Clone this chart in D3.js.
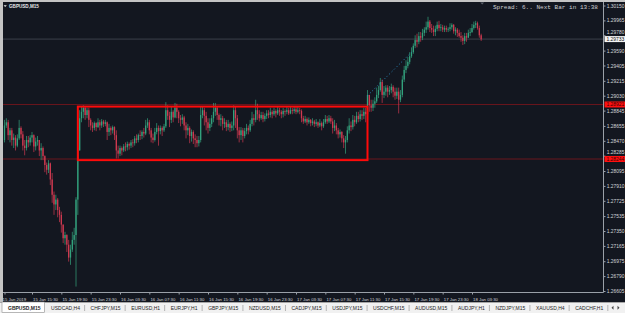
<!DOCTYPE html>
<html>
<head>
<meta charset="utf-8">
<script src="https://cdn.jsdelivr.net/npm/d3@7"></script>
<style>
  html, body { margin: 0; padding: 0; background: #f0f0f0; overflow: hidden; }
  svg { display: block; }
</style>
</head>
<body>
<div id="chart"></div>
<script>
// GBPUSD M15, 15 Jan 2019 11:45 -> 18 Jan 2019 04:45 (261 bars).
// Each bar opens at the previous close; the first bar's open is given.
var symbolTitle = "GBPUSD,M15";
var infoText = "Spread: 6.. Next Bar in 13:38";
var firstBarTime = "2019-01-15T11:45Z";
var barMinutes = 15;
var firstOpen = 1.2848;

var closes = [
  1.2866, 1.2870, 1.2854, 1.2860, 1.2848, 1.2851, 1.2841, 1.2850, 1.2863, 1.2855,
  1.2841, 1.2838, 1.2848, 1.2845, 1.2851, 1.2854, 1.2840, 1.2846, 1.2848, 1.2835,
  1.2838, 1.2828, 1.2817, 1.2811, 1.2819, 1.2799, 1.2780, 1.2768, 1.2774, 1.2761,
  1.2755, 1.2743, 1.2726, 1.2730, 1.2718, 1.2702, 1.2712, 1.2724, 1.2730, 1.2774,
  1.2835,
  1.2875, 1.2883, 1.2888, 1.2879, 1.2885, 1.2873, 1.2866, 1.2863, 1.2869, 1.2864,
  1.2870, 1.2866, 1.2871, 1.2868, 1.2870, 1.2858, 1.2863, 1.2860, 1.2864, 1.2854,
  1.2835, 1.2831, 1.2838, 1.2835, 1.2840, 1.2839, 1.2843, 1.2841, 1.2845, 1.2844,
  1.2850, 1.2848, 1.2854, 1.2853, 1.2858, 1.2856, 1.2866, 1.2870, 1.2860, 1.2851,
  1.2848, 1.2858, 1.2863, 1.2859, 1.2863, 1.2860, 1.2865, 1.2885, 1.2878, 1.2873,
  1.2883, 1.2876, 1.2888, 1.2883, 1.2875, 1.2873, 1.2876, 1.2866, 1.2860, 1.2863,
  1.2853, 1.2858, 1.2850, 1.2848, 1.2844, 1.2848, 1.2879, 1.2885, 1.2878, 1.2870,
  1.2863, 1.2868, 1.2875, 1.2883, 1.2888, 1.2879, 1.2873, 1.2875, 1.2868, 1.2870,
  1.2864, 1.2868, 1.2863, 1.2866, 1.2885, 1.2875, 1.2860, 1.2854, 1.2860, 1.2853,
  1.2859, 1.2863, 1.2860, 1.2868, 1.2875, 1.2873, 1.2885, 1.2880, 1.2875, 1.2879,
  1.2874, 1.2878, 1.2881, 1.2879, 1.2883, 1.2880, 1.2884, 1.2881, 1.2885, 1.2883,
  1.2880, 1.2884, 1.2883, 1.2885, 1.2881, 1.2885, 1.2884, 1.2886, 1.2883, 1.2885,
  1.2884, 1.2875, 1.2871, 1.2874, 1.2870, 1.2873, 1.2869, 1.2871, 1.2868, 1.2870,
  1.2866, 1.2869, 1.2865, 1.2870, 1.2874, 1.2871, 1.2875, 1.2871, 1.2863, 1.2866,
  1.2860, 1.2855, 1.2858, 1.2850, 1.2845, 1.2848, 1.2860, 1.2866, 1.2864, 1.2873,
  1.2870, 1.2878, 1.2874, 1.2880, 1.2878, 1.2883, 1.2880, 1.2904, 1.2891, 1.2888,
  1.2893, 1.2896, 1.2904, 1.2910, 1.2920, 1.2904, 1.2908, 1.2913, 1.2908, 1.2910,
  1.2914, 1.2908, 1.2903, 1.2908, 1.2898, 1.2904, 1.2923, 1.2935, 1.2940, 1.2945,
  1.2952, 1.2957, 1.2965, 1.2972, 1.2970, 1.2977, 1.2975, 1.2981, 1.2985, 1.2988,
  1.2995, 1.2987, 1.2985, 1.2982, 1.2986, 1.2991, 1.2987, 1.2988, 1.2985, 1.2987,
  1.2985, 1.2986, 1.2988, 1.2991, 1.2983, 1.2985, 1.2981, 1.2977, 1.2975, 1.2971,
  1.2977, 1.2975, 1.2981, 1.2982, 1.2987, 1.2991, 1.2993, 1.2987, 1.2978, 1.2973
];

var highs = [
  1.2873, 1.2875, 1.2873, 1.2863, 1.2863, 1.2856, 1.2854, 1.2855, 1.2873, 1.2865,
  1.2859, 1.2848, 1.2853, 1.2853, 1.2854, 1.2858, 1.2855, 1.2851, 1.2853, 1.2848,
  1.2844, 1.2840, 1.2829, 1.2820, 1.2823, 1.2820, 1.2807, 1.2784, 1.2780, 1.2776,
  1.2765, 1.2759, 1.2743, 1.2734, 1.2731, 1.2724, 1.2718, 1.2734, 1.2739, 1.2777,
  1.2838,
  1.2885, 1.2890, 1.2891, 1.2890, 1.2888, 1.2888, 1.2875, 1.2870, 1.2871, 1.2870,
  1.2875, 1.2873, 1.2874, 1.2873, 1.2873, 1.2871, 1.2868, 1.2865, 1.2866, 1.2865,
  1.2860, 1.2841, 1.2841, 1.2840, 1.2843, 1.2845, 1.2846, 1.2845, 1.2848, 1.2849,
  1.2853, 1.2855, 1.2856, 1.2860, 1.2860, 1.2863, 1.2873, 1.2875, 1.2873, 1.2863,
  1.2856, 1.2863, 1.2869, 1.2866, 1.2866, 1.2865, 1.2868, 1.2895, 1.2891, 1.2883,
  1.2889, 1.2885, 1.2894, 1.2893, 1.2885, 1.2879, 1.2880, 1.2878, 1.2870, 1.2868,
  1.2865, 1.2861, 1.2860, 1.2855, 1.2853, 1.2853, 1.2889, 1.2890, 1.2888, 1.2883,
  1.2875, 1.2875, 1.2879, 1.2894, 1.2894, 1.2890, 1.2881, 1.2880, 1.2878, 1.2875,
  1.2873, 1.2873, 1.2870, 1.2871, 1.2891, 1.2890, 1.2879, 1.2864, 1.2864, 1.2863,
  1.2863, 1.2868, 1.2866, 1.2873, 1.2883, 1.2880, 1.2898, 1.2893, 1.2885, 1.2883,
  1.2883, 1.2881, 1.2885, 1.2885, 1.2888, 1.2885, 1.2888, 1.2886, 1.2890, 1.2888,
  1.2885, 1.2888, 1.2886, 1.2889, 1.2888, 1.2889, 1.2888, 1.2889, 1.2889, 1.2889,
  1.2888, 1.2886, 1.2878, 1.2878, 1.2876, 1.2876, 1.2874, 1.2875, 1.2873, 1.2874,
  1.2871, 1.2874, 1.2871, 1.2874, 1.2879, 1.2878, 1.2879, 1.2878, 1.2875, 1.2873,
  1.2869, 1.2863, 1.2861, 1.2859, 1.2854, 1.2853, 1.2865, 1.2875, 1.2871, 1.2879,
  1.2878, 1.2883, 1.2883, 1.2885, 1.2885, 1.2888, 1.2888, 1.2910, 1.2904, 1.2898,
  1.2898, 1.2901, 1.2913, 1.2915, 1.2925, 1.2923, 1.2915, 1.2916, 1.2916, 1.2915,
  1.2918, 1.2916, 1.2913, 1.2913, 1.2913, 1.2910, 1.2928, 1.2940, 1.2947, 1.2951,
  1.2957, 1.2963, 1.2968, 1.2978, 1.2980, 1.2982, 1.2982, 1.2986, 1.2988, 1.2995,
  1.3001, 1.2997, 1.2992, 1.2990, 1.2990, 1.2995, 1.2996, 1.2992, 1.2991, 1.2990,
  1.2990, 1.2988, 1.2993, 1.2993, 1.2992, 1.2988, 1.2987, 1.2985, 1.2982, 1.2978,
  1.2981, 1.2981, 1.2985, 1.2987, 1.2992, 1.2995, 1.2996, 1.2995, 1.2990, 1.2980
];

var lows = [
  1.2845, 1.2863, 1.2848, 1.2845, 1.2841, 1.2838, 1.2835, 1.2839, 1.2848, 1.2850,
  1.2835, 1.2829, 1.2835, 1.2839, 1.2841, 1.2845, 1.2833, 1.2835, 1.2841, 1.2828,
  1.2823, 1.2823, 1.2808, 1.2805, 1.2807, 1.2792, 1.2770, 1.2755, 1.2761, 1.2752,
  1.2746, 1.2733, 1.2720, 1.2718, 1.2709, 1.2697, 1.2693, 1.2709, 1.2718, 1.2666,
  1.2755,
  1.2835, 1.2870, 1.2875, 1.2873, 1.2875, 1.2864, 1.2860, 1.2858, 1.2860, 1.2859,
  1.2863, 1.2860, 1.2863, 1.2864, 1.2865, 1.2848, 1.2853, 1.2854, 1.2856, 1.2848,
  1.2825, 1.2825, 1.2828, 1.2829, 1.2833, 1.2834, 1.2835, 1.2836, 1.2838, 1.2839,
  1.2841, 1.2844, 1.2845, 1.2848, 1.2849, 1.2851, 1.2854, 1.2863, 1.2855, 1.2845,
  1.2844, 1.2846, 1.2855, 1.2841, 1.2855, 1.2853, 1.2858, 1.2863, 1.2873, 1.2864,
  1.2869, 1.2870, 1.2875, 1.2875, 1.2869, 1.2865, 1.2868, 1.2860, 1.2850, 1.2854,
  1.2844, 1.2846, 1.2843, 1.2839, 1.2839, 1.2840, 1.2845, 1.2875, 1.2866, 1.2860,
  1.2856, 1.2859, 1.2864, 1.2870, 1.2878, 1.2873, 1.2866, 1.2865, 1.2860, 1.2863,
  1.2859, 1.2860, 1.2858, 1.2859, 1.2860, 1.2863, 1.2850, 1.2845, 1.2848, 1.2845,
  1.2850, 1.2855, 1.2855, 1.2858, 1.2865, 1.2866, 1.2870, 1.2873, 1.2871, 1.2873,
  1.2870, 1.2871, 1.2874, 1.2875, 1.2876, 1.2875, 1.2878, 1.2876, 1.2879, 1.2878,
  1.2875, 1.2876, 1.2878, 1.2880, 1.2879, 1.2880, 1.2880, 1.2881, 1.2880, 1.2881,
  1.2880, 1.2870, 1.2868, 1.2869, 1.2866, 1.2868, 1.2865, 1.2866, 1.2864, 1.2865,
  1.2863, 1.2864, 1.2860, 1.2863, 1.2868, 1.2868, 1.2869, 1.2868, 1.2856, 1.2859,
  1.2855, 1.2850, 1.2851, 1.2845, 1.2838, 1.2831, 1.2845, 1.2856, 1.2859, 1.2861,
  1.2865, 1.2868, 1.2870, 1.2871, 1.2873, 1.2874, 1.2870, 1.2875, 1.2883, 1.2883,
  1.2884, 1.2888, 1.2894, 1.2900, 1.2908, 1.2894, 1.2900, 1.2903, 1.2901, 1.2904,
  1.2906, 1.2901, 1.2898, 1.2899, 1.2881, 1.2895, 1.2901, 1.2920, 1.2931, 1.2937,
  1.2942, 1.2950, 1.2955, 1.2962, 1.2963, 1.2967, 1.2970, 1.2972, 1.2977, 1.2981,
  1.2985, 1.2982, 1.2981, 1.2977, 1.2977, 1.2983, 1.2983, 1.2983, 1.2982, 1.2982,
  1.2982, 1.2982, 1.2983, 1.2985, 1.2980, 1.2978, 1.2976, 1.2975, 1.2970, 1.2966,
  1.2967, 1.2970, 1.2975, 1.2977, 1.2981, 1.2985, 1.2987, 1.2985, 1.2975, 1.2971
];

// price scale labels, top to bottom
var priceTicks = [1.30150, 1.29965, 1.29780, 1.29590, 1.29405, 1.29215, 1.29030,
  1.28845, 1.28655, 1.28470, 1.28285, 1.28095, 1.27910, 1.27725, 1.27535, 1.27350,
  1.27165, 1.26975, 1.26790, 1.26605];

var timeTickLabels = ["15 Jan 2019", "15 Jan 15:30", "15 Jan 19:30", "15 Jan 23:30",
  "16 Jan 03:30", "16 Jan 07:30", "16 Jan 11:30", "16 Jan 15:30", "16 Jan 19:30",
  "16 Jan 23:30", "17 Jan 03:30", "17 Jan 07:30", "17 Jan 11:30", "17 Jan 15:30",
  "17 Jan 19:30", "17 Jan 23:30", "18 Jan 03:30"];
var timeTickTimes = ["2019-01-15T11:45Z", "2019-01-15T15:30Z", "2019-01-15T19:30Z",
  "2019-01-15T23:30Z", "2019-01-16T03:30Z", "2019-01-16T07:30Z", "2019-01-16T11:30Z",
  "2019-01-16T15:30Z", "2019-01-16T19:30Z", "2019-01-16T23:30Z", "2019-01-17T03:30Z",
  "2019-01-17T07:30Z", "2019-01-17T11:30Z", "2019-01-17T15:30Z", "2019-01-17T19:30Z",
  "2019-01-17T23:30Z", "2019-01-18T03:30Z"];

// chart objects
var levelPrices = [1.28921, 1.28244];
var bidPrice = 1.29733;
var boxTimes = ["2019-01-15T21:45Z", "2019-01-17T13:15Z"];
var boxPrices = [1.28895, 1.28230];
var trendTimes = ["2019-01-17T13:15Z", "2019-01-17T19:15Z"];
var trendPrices = [1.2903, 1.2957];

var tabNames = ["GBPUSD,M15", "USDCAD,H4", "CHFJPY,M15", "EURUSD,H1", "EURJPY,H1",
  "GBPJPY,M15", "NZDUSD,M15", "CADJPY,M15", "USDJPY,M15", "USDCHF,M15",
  "AUDUSD,M15", "AUDJPY,H1", "NZDJPY,M15", "XAUUSD,H4", "CADCHF,H1"];

var width = 625, height = 313;
var plot = {left: 3, top: 2, right: 603, bottom: 292};
var bg = "#131720", bull = "#33a27d", bear = "#cf3a50";
var sans = "'Liberation Sans', Arial, sans-serif";

var svg = d3.select("#chart").append("svg")
  .attr("width", width)
  .attr("height", height);

// window frame and chart background
svg.append("rect").attr("width", width).attr("height", height).attr("fill", "#c4c4c4");
svg.append("rect")
  .attr("x", plot.left).attr("y", plot.top)
  .attr("width", width - plot.left).attr("height", 300)
  .attr("fill", bg);

var x = d3.scaleUtc()
  .domain([new Date("2019-01-15T15:30Z"), new Date("2019-01-18T03:30Z")])
  .range([32, 472]);
var y = d3.scaleLinear()
  .domain([1.26605, 1.30150])
  .range([291, 5.5]);

var t0 = new Date(firstBarTime).getTime();
var bars = closes.map(function (c, i) {
  return {
    time: new Date(t0 + i * barMinutes * 60000),
    open: i ? closes[i - 1] : firstOpen,
    close: c,
    high: highs[i],
    low: lows[i]
  };
});

svg.append("clipPath").attr("id", "plotClip")
  .append("rect")
  .attr("x", plot.left).attr("y", plot.top)
  .attr("width", plot.right - plot.left).attr("height", plot.bottom - plot.top);

var plotG = svg.append("g").attr("clip-path", "url(#plotClip)");

// horizontal levels and bid line
plotG.selectAll("line.level")
  .data(levelPrices)
  .join("line")
    .attr("class", "level")
    .attr("x1", plot.left).attr("x2", plot.right)
    .attr("y1", d => y(d)).attr("y2", d => y(d))
    .attr("stroke", "#6a161c")
    .attr("stroke-width", 1);

plotG.append("line")
  .attr("x1", plot.left).attr("x2", plot.right)
  .attr("y1", y(bidPrice)).attr("y2", y(bidPrice))
  .attr("stroke", "#3b404b")
  .attr("stroke-width", 1);

// candles
var candle = plotG.selectAll("g.candle")
  .data(bars)
  .join("g")
    .attr("class", "candle")
    .attr("stroke", d => d.close >= d.open ? bull : bear)
    .attr("fill", d => d.close >= d.open ? bull : bear);

candle.append("line")
  .attr("x1", d => x(d.time)).attr("x2", d => x(d.time))
  .attr("y1", d => y(Math.max(d.high, d.open, d.close)))
  .attr("y2", d => y(Math.min(d.low, d.open, d.close)))
  .attr("stroke-width", 0.7);

candle.append("rect")
  .attr("stroke", "none")
  .attr("x", d => x(d.time) - 0.65)
  .attr("width", 1.3)
  .attr("y", d => y(Math.max(d.open, d.close)))
  .attr("height", d => Math.max(0.7, Math.abs(y(d.open) - y(d.close))));

// range box
var bx0 = x(new Date(boxTimes[0])), bx1 = x(new Date(boxTimes[1]));
plotG.append("rect")
  .attr("x", bx0).attr("y", y(boxPrices[0]))
  .attr("width", bx1 - bx0)
  .attr("height", y(boxPrices[1]) - y(boxPrices[0]))
  .attr("fill", "none")
  .attr("stroke", "#ff0a0a")
  .attr("stroke-width", 2);

// dotted trend line
plotG.append("line")
  .attr("x1", x(new Date(trendTimes[0]))).attr("y1", y(trendPrices[0]))
  .attr("x2", x(new Date(trendTimes[1]))).attr("y2", y(trendPrices[1]))
  .attr("stroke", "#2a8cc2")
  .attr("stroke-width", 1)
  .attr("stroke-dasharray", "1,2.4");

// axis frame lines
svg.append("line")
  .attr("x1", plot.right + 0.5).attr("x2", plot.right + 0.5)
  .attr("y1", plot.top).attr("y2", plot.bottom + 0.5)
  .attr("stroke", "#9aa0a8");
svg.append("line")
  .attr("x1", plot.left).attr("x2", plot.right + 0.5)
  .attr("y1", plot.bottom + 0.5).attr("y2", plot.bottom + 0.5)
  .attr("stroke", "#9aa0a8");

// price axis
var yAxis = d3.axisRight(y)
  .tickValues(priceTicks)
  .tickSize(2)
  .tickSizeOuter(0)
  .tickPadding(1.2)
  .tickFormat(d3.format(".5f"));

var yG = svg.append("g")
  .attr("transform", "translate(" + (plot.right + 0.5) + ",0)")
  .call(yAxis);
yG.select(".domain").remove();
yG.selectAll(".tick line").attr("stroke", "#9aa0a8");
yG.selectAll(".tick text")
  .attr("fill", "#d4d6da")
  .style("font-family", sans)
  .style("font-size", "4.9px");

// time axis
var xAxis = d3.axisBottom(x)
  .tickValues(timeTickTimes.map(d => new Date(d)))
  .tickSize(2)
  .tickSizeOuter(0)
  .tickPadding(3)
  .tickFormat((d, i) => timeTickLabels[i]);

var xG = svg.append("g")
  .attr("transform", "translate(0," + (plot.bottom + 0.5) + ")")
  .call(xAxis);
xG.select(".domain").remove();
xG.selectAll(".tick line").attr("stroke", "#9aa0a8");
xG.selectAll(".tick text")
  .attr("fill", "#d4d6da")
  .attr("text-anchor", "start")
  .attr("x", (d, i) => i === 0 ? -2.5 : 0.6)
  .style("font-family", sans)
  .style("font-size", "4.3px");

// price tags on the scale (drawn over the scale labels, as the terminal does)
function priceTag(price, fill, textFill) {
  var g = svg.append("g").attr("transform", "translate(" + (plot.right + 1) + "," + y(price) + ")");
  g.append("rect")
    .attr("x", 0.5).attr("y", -3)
    .attr("width", 21).attr("height", 6)
    .attr("fill", fill);
  g.append("text")
    .attr("x", 2.5).attr("y", 1.8)
    .attr("fill", textFill)
    .style("font-family", sans)
    .style("font-size", "4.9px")
    .text(d3.format(".5f")(price));
}
// scale labels sitting under a tag are only partly visible; keep them above it
yG.selectAll(".tick text")
  .attr("dy", d => {
    var near = levelPrices.concat([bidPrice]).some(p => Math.abs(y(p) - y(d)) < 5.5);
    return near ? "-0.35em" : "0.32em";
  });
levelPrices.forEach(p => priceTag(p, "#ff1010", "#3a0000"));
priceTag(bidPrice, "#f4f4f4", "#111111");

// title, info text and shift marker
svg.append("path")
  .attr("d", "M3.6,5.2 L6.8,5.2 L5.2,7 Z")
  .attr("fill", "#e6e6e6");
svg.append("text")
  .attr("x", 9).attr("y", 8)
  .attr("fill", "#e6e6e6")
  .style("font-family", sans)
  .style("font-size", "4.6px")
  .style("font-weight", "bold")
  .text(symbolTitle);

svg.append("text")
  .attr("x", 493).attr("y", 8.8)
  .attr("fill", "#cfd1d4")
  .attr("textLength", 105)
  .attr("lengthAdjust", "spacingAndGlyphs")
  .style("font-family", "'Liberation Mono', 'DejaVu Sans Mono', monospace")
  .style("font-size", "6.2px")
  .text(infoText);

svg.append("path")
  .attr("d", "M480.3,2.6 L484.1,2.6 L482.2,4.6 Z")
  .attr("fill", "#5d626c");

// symbol tabs
var tabG = svg.append("g");
tabG.append("rect")
  .attr("x", 0).attr("y", 302)
  .attr("width", width).attr("height", 11)
  .attr("fill", "#f1f1f1");
tabG.append("line")
  .attr("x1", 0).attr("x2", width)
  .attr("y1", 302.5).attr("y2", 302.5)
  .attr("stroke", "#a8a8a8");

var tx = 2;
tabNames.forEach(function (name, i) {
  var t = tabG.append("text")
    .attr("x", tx + 6).attr("y", 310.2)
    .attr("fill", "#1e1e1e")
    .style("font-family", sans)
    .style("font-size", "5px")
    .style("font-weight", i === 0 ? "bold" : "normal")
    .text(name);
  var w = t.node().getComputedTextLength();
  if (i === 0) {
    tabG.insert("rect", "text")
      .attr("x", tx).attr("y", 302)
      .attr("width", w + 10).attr("height", 10.5)
      .attr("fill", "#ffffff")
      .attr("stroke", "#8c8c8c")
      .attr("stroke-width", 0.6);
  }
  var sx = tx + 6 + w + 4.6;
  if (i > 0) {
    tabG.append("line")
      .attr("x1", sx).attr("x2", sx)
      .attr("y1", 305).attr("y2", 311)
      .attr("stroke", "#9a9a9a")
      .attr("stroke-width", 0.7);
  }
  tx = sx;
});

// tab scroll arrows
tabG.append("path").attr("d", "M613.5,305.8 L613.5,309.8 L611.5,307.8 Z").attr("fill", "#444");
tabG.append("path").attr("d", "M617.5,305.8 L617.5,309.8 L619.5,307.8 Z").attr("fill", "#444");
</script>
</body>
</html>
